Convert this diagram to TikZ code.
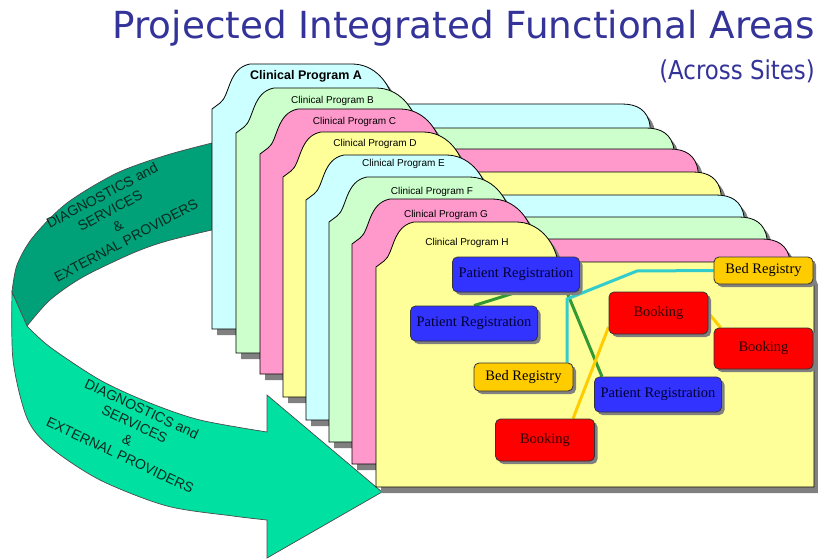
\documentclass[tikz,border=0pt]{standalone}
\usepackage{fontspec}
\setmainfont{Liberation Serif}
\newfontfamily\titlefont{DejaVu Sans}
\newfontfamily\subtitlefont[FakeStretch=0.88]{DejaVu Sans}
\newfontfamily\arialfont{Liberation Sans}
\usetikzlibrary{shadows}
\pgfdeclarelayer{fg}
\pgfsetlayers{main,fg}
\definecolor{fcyan}{HTML}{CCFFFF}
\definecolor{fgreen}{HTML}{CCFFCC}
\definecolor{fpink}{HTML}{FF99CC}
\definecolor{fyellow}{HTML}{FFFF99}
\definecolor{shadowgray}{HTML}{808080}
\definecolor{titleblue}{HTML}{333399}
\definecolor{darkteal}{HTML}{00A078}
\definecolor{lightteal}{HTML}{00E0A0}
\definecolor{arrtext}{HTML}{0A2A20}
\definecolor{boxblue}{HTML}{3333FF}
\definecolor{boxred}{HTML}{FF0000}
\definecolor{boxgold}{HTML}{FFCC00}
\definecolor{lgreen}{HTML}{339933}
\definecolor{lcyan}{HTML}{33CCCC}
\definecolor{lyellow}{HTML}{FFCC00}
\newcommand\drawfolder[3]{%
  \begin{scope}[shift={(#1,#2)}]
    \fill[shadowgray, shift={(5,6)}] (0,225) -- (0,5) -- (8,-1) .. controls (18,-8) and (16,-36) .. (38,-40) -- (140,-40) .. controls (162,-40) and (178,-22) .. (182,0) -- (410,0) .. controls (425,0) and (436,6) .. (438,22) -- (438,225) -- cycle;
    \filldraw[fill=#3, draw=black, line width=0.8pt] (0,225) -- (0,5) -- (8,-1) .. controls (18,-8) and (16,-36) .. (38,-40) -- (140,-40) .. controls (162,-40) and (178,-22) .. (182,0) -- (410,0) .. controls (425,0) and (436,6) .. (438,22) -- (438,225) -- cycle;
  \end{scope}}
\tikzset{
  flabel/.style={font=\arialfont\fontsize{10}{12}\selectfont, inner sep=0pt},
  box/.style={rectangle, rounded corners=5pt, draw=black!80, line width=0.8pt, inner sep=0pt,
    font=\fontsize{14.5}{16}\selectfont, drop shadow={shadow xshift=3pt, shadow yshift=-3pt, fill=shadowgray, opacity=1}},
  prbox/.style={box, fill=boxblue, text=blue!20!black, minimum width=127pt, minimum height=35pt},
  bkbox/.style={box, fill=boxred, text=red!20!black, minimum width=99pt, minimum height=42pt},
  brbox/.style={box, fill=boxgold, text=black, minimum width=99pt, minimum height=28pt},
  conn/.style={line width=3pt},
  arrtxt/.style={font=\arialfont\fontsize{14}{17}\selectfont, text=arrtext, align=center, inner sep=0pt}
}
\begin{document}
\begin{tikzpicture}[x=1pt,y=-1pt]
\useasboundingbox (0,0) rectangle (818,559);
% curved arrow (behind folders)
\filldraw[fill=darkteal, draw=black!70, line width=0.7pt]
  plot[smooth] coordinates {(216,142) (167,155) (117,173) (67,203) (33,237) (17,265) (12,292)}
  -- (27,326)
  -- plot[smooth] coordinates {(27,326) (50,300) (83,277) (133,253) (167,241) (216,229)} -- cycle;
\filldraw[fill=lightteal, draw=black!70, line width=0.7pt]
  plot[smooth] coordinates {(12,292) (13,360) (27,418) (50,447) (100,480) (167,506) (233,516) (267,520)}
  -- (267,558) -- (382,492) -- (267,395)
  -- plot[smooth] coordinates {(267,432) (200,420) (150,403) (100,380) (50,347) (27,326)} -- cycle;
\node[arrtxt, rotate=28] (arrA) at (114,218) {DIAGNOSTICS and\\SERVICES\\\&\\EXTERNAL PROVIDERS};
\node[arrtxt, rotate=-25] (arrB) at (131,432) {DIAGNOSTICS and\\SERVICES\\\&\\EXTERNAL PROVIDERS};
% folders
\drawfolder{212}{104}{fcyan}
\drawfolder{236}{128}{fgreen}
\drawfolder{260}{149}{fpink}
\drawfolder{283}{172}{fyellow}
\drawfolder{306}{195}{fcyan}
\drawfolder{329}{217}{fgreen}
\drawfolder{352}{239}{fpink}
\drawfolder{376}{262}{fyellow}
\node[flabel, font=\arialfont\bfseries\fontsize{12.5}{14}\selectfont] (labA) at (306,76) {Clinical Program A};
\node[flabel] (labB) at (332.5,101) {Clinical Program B};
\node[flabel] (labC) at (354.5,122) {Clinical Program C};
\node[flabel] (labD) at (375,144) {Clinical Program D};
\node[flabel] (labE) at (403.5,164) {Clinical Program E};
\node[flabel] (labF) at (432,192) {Clinical Program F};
\node[flabel] (labG) at (446,215) {Clinical Program G};
\node[flabel] (labH) at (467,243) {Clinical Program H};
% title
\node[anchor=base east, text=titleblue, inner sep=0pt, font=\titlefont\fontsize{37.3}{40}\selectfont] (title) at (815,39) {Projected Integrated Functional Areas};
\node[anchor=base east, text=titleblue, inner sep=0pt, font=\subtitlefont\fontsize{26}{28}\selectfont] (subtitle) at (815,80) {(Across Sites)};
% boxes
\begin{pgfonlayer}{fg}
\node[prbox] (pr1) at (516,274.5) {Patient Registration};
\node[prbox] (pr2) at (474,323.5) {Patient Registration};
\node[prbox] (pr3) at (658,394.5) {Patient Registration};
\node[brbox] (br1) at (523.5,377) {Bed Registry};
\node[brbox, minimum height=27pt] (br2) at (763.5,270.5) {Bed Registry};
\node[bkbox] (bk1) at (658.5,313) {Booking};
\node[bkbox, minimum height=41pt] (bk2) at (763.5,348.5) {Booking};
\node[bkbox] (bk3) at (545,440) {Booking};
\end{pgfonlayer}
% connectors
\coordinate (c1) at (637,271);
\coordinate (c2) at (567,299);
\draw[conn, lgreen] (pr1.south) -- (pr2.north);
\draw[conn, lgreen] ([xshift=51pt]pr1.south) -- ([xshift=-56pt]pr3.north);
\draw[conn, lcyan] (br2.west) -- (c1) -- (c2) -- (c2 |- br1.north);
\draw[conn, lyellow] ([yshift=-14pt]bk1.west) -- ([xshift=28pt]bk3.north);
\draw[conn, lyellow] (bk1.east) -- ([xshift=7pt]bk2.north west);
\end{tikzpicture}
\end{document}
